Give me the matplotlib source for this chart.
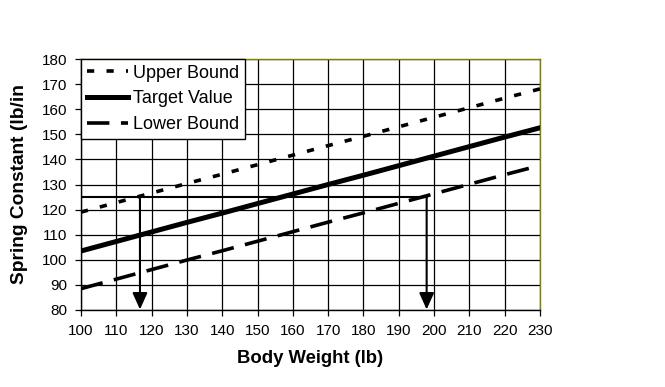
import numpy as np
import matplotlib.pyplot as plt

plt.rcParams['font.family'] = ['Liberation Sans', 'DejaVu Sans']

weight = [100, 110, 120, 130, 140, 150, 160, 170, 180, 190, 200, 210, 220, 230]
target = [103.5, 107.3, 111.1, 114.9, 118.6, 122.4, 126.2, 130.0, 133.7, 137.5,
          141.3, 145.1, 148.9, 152.6]
upper = [119.0, 122.8, 126.6, 130.4, 134.1, 137.9, 141.7, 145.5, 149.2, 153.0,
         156.8, 160.6, 164.4, 168.1]
lower = [88.5, 92.3, 96.1, 99.9, 103.6, 107.4, 111.2, 115.0, 118.7, 122.5,
         126.3, 130.1, 133.9, 137.6]

spring_k = 125
w_low, w_high = 116.7, 197.9


def main():
    fig = plt.figure(figsize=(6.65, 3.87), dpi=100)
    ax = fig.add_axes([0.1218, 0.199, 0.6902, 0.6485])

    ax.plot(weight, upper, color='black', lw=2.6, dashes=(2.0, 3.4),
            label='Upper Bound', zorder=3)
    ax.plot(weight, target, color='black', lw=3.6, label='Target Value', zorder=3)
    ax.plot(weight, lower, color='black', lw=2.6, dashes=(6.2, 3.2),
            label='Lower Bound', zorder=3)

    # reading lines
    ax.plot([100, w_high], [spring_k, spring_k], color='black', lw=1.5, zorder=4)
    for w in (w_low, w_high):
        ax.annotate('', xy=(w, 80.2), xytext=(w, spring_k),
                    arrowprops=dict(arrowstyle='-|>,head_length=1.0,head_width=0.45',
                                    color='black', lw=1.5, shrinkA=0, shrinkB=0),
                    zorder=4)

    ax.set_xlim(100, 230)
    ax.set_ylim(80, 180)
    ax.set_xticks(np.arange(100, 231, 10))
    ax.set_yticks(np.arange(80, 181, 10))
    ax.grid(True, color='black', lw=0.9)
    ax.set_axisbelow(True)
    ax.tick_params(labelsize=11, length=4, width=0.9, color='black', pad=6)

    for s in ('top', 'right'):
        ax.spines[s].set_color('#808000')
    for s in ax.spines.values():
        s.set_linewidth(1)

    ax.set_xlabel('Body Weight (lb)', fontsize=13.3, fontweight='bold', labelpad=9)
    ax.set_ylabel('Spring Constant (lb/in', fontsize=13.8, fontweight='bold', labelpad=10)

    leg = ax.legend(loc='upper left', bbox_to_anchor=(0, 1), borderaxespad=0,
                    fontsize=13, fancybox=False, framealpha=1, edgecolor='black',
                    handlelength=2.3, handletextpad=0.28, labelspacing=0.48,
                    borderpad=0.32)
    leg.get_frame().set_linewidth(1)

    fig.savefig('out.png', dpi=100)
    plt.close(fig)


if __name__ == '__main__':
    main()
